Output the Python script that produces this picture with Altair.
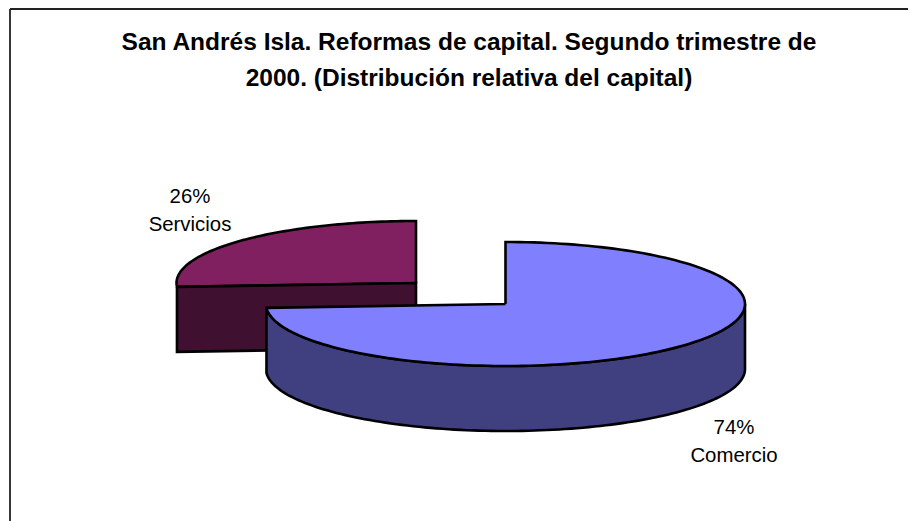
import numpy as np
import pandas as pd
import altair as alt

categories = ["Comercio", "Servicios"]
shares = [74, 26]
title_lines = ["San Andrés Isla. Reformas de capital. Segundo trimestre de",
               "2000. (Distribución relativa del capital)"]

W, H = 916, 521
RX, RY, DEPTH = 239.5, 62, 65
COM_CENTER = (505.5, 304)
SER_CENTER = (416, 283)
FONT = "Liberation Sans"


def ell(center, deg, dy=0):
    t = np.radians(np.asarray(deg, dtype=float))
    return center[0] + RX * np.sin(t), center[1] - RY * np.cos(t) + dy


def frame(xs, ys):
    xs, ys = list(xs) + [xs[0]], list(ys) + [ys[0]]
    return pd.DataFrame({"x": xs, "y": ys, "i": range(len(xs))})


cut = shares[0] * 3.6
# Comercio top
a = np.linspace(0, cut, 160)
x, y = ell(COM_CENTER, a)
com_top = frame([COM_CENTER[0]] + list(x), [COM_CENTER[1]] + list(y))
# Comercio outer wall
a = np.linspace(90, cut, 120)
x, y = ell(COM_CENTER, a)
x2, y2 = ell(COM_CENTER, a[::-1], DEPTH)
com_wall = frame(list(x) + list(x2), list(y) + list(y2))
# Servicios top
a = np.linspace(cut, 360, 80)
x, y = ell(SER_CENTER, a)
ser_top = frame([SER_CENTER[0]] + list(x), [SER_CENTER[1]] + list(y))
# Servicios cut face
xl, yl = ell(SER_CENTER, [cut])
ser_wall = frame([xl[0], SER_CENTER[0], SER_CENTER[0], xl[0]],
                 [yl[0], SER_CENTER[1], SER_CENTER[1] + DEPTH, yl[0] + DEPTH])

PW, PH = W - 16, H - 8
X = alt.X("x:Q", scale=alt.Scale(domain=[0, PW], nice=False), axis=None)
Y = alt.Y("y:Q", scale=alt.Scale(domain=[PH, 0], nice=False), axis=None)


def shift(df):
    d = df.copy()
    d["x"] -= 8
    d["y"] -= 8
    return d


def poly(df, fill):
    return alt.Chart(shift(df)).mark_line(fill=fill, stroke="black", strokeWidth=2.6,
                                          strokeJoin="miter", clip=True).encode(
        x=X, y=Y, order="i:Q")


border = frame([10, 960, 960, 10], [9, 9, 560, 560])
layers = [
    alt.Chart(shift(border)).mark_line(stroke="#222222", strokeWidth=1.8, clip=True).encode(x=X, y=Y, order="i:Q"),
    poly(ser_top, "#802060"),
    poly(ser_wall, "#401030"),
    poly(com_wall, "#404080"),
    poly(com_top, "#8080FF"),
]

texts = pd.DataFrame({
    "x": [469 - 8, 469 - 8, 190 - 8, 190 - 8, 734 - 8, 734 - 8],
    "y": [42.5 - 8, 78.5 - 8, 197 - 8, 225 - 8, 428 - 8, 456 - 8],
    "t": [title_lines[0], title_lines[1], f"{shares[1]}%", categories[1], f"{shares[0]}%", categories[0]],
    "kind": ["title", "title", "l", "l", "l", "l"],
})
layers.append(alt.Chart(texts[texts.kind == "title"]).mark_text(font=FONT, fontSize=24.5, fontWeight="bold", color="black", align="center", baseline="middle").encode(x=X, y=Y, text="t:N"))
layers.append(alt.Chart(texts[texts.kind == "l"]).mark_text(font=FONT, fontSize=20.4, color="black", align="center", baseline="middle").encode(x=X, y=Y, text="t:N"))

chart = alt.layer(*layers).properties(
    width=PW, height=PH, padding=0,
    autosize=alt.AutoSizeParams(type="none", contains="padding"),
).configure_view(stroke=None)
chart.save("out.html", embed_options={"renderer": "svg", "actions": False})
